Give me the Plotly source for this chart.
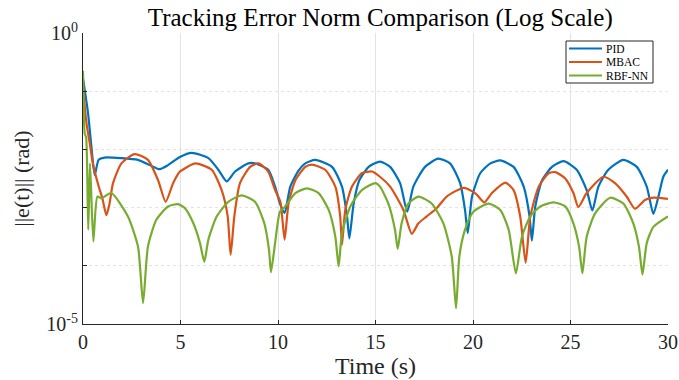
import numpy as np
import plotly.graph_objects as go

# time samples (s) and log10 of ||e(t)||
pid_t = [0.0, 0.26, 0.43, 0.6, 0.8, 1.11, 1.97, 2.82, 3.42, 3.93, 4.36, 4.97, 5.57, 6.43, 6.94, 7.37, 7.8, 8.48, 8.82,
         9.5, 9.85, 10.1, 10.34, 10.63, 11.06, 11.4, 11.91, 12.77, 13.28, 13.54, 13.66, 13.88, 14.17, 14.65, 15.23,
         15.75, 16.26, 16.63, 16.94, 17.54, 18.22, 18.82, 19.34, 19.59, 19.73, 19.95, 20.37, 20.89, 21.4, 22.08,
         22.6, 22.9, 23.02, 23.19, 23.54, 24.05, 24.65, 25.32, 25.83, 26.12, 26.43, 26.94, 27.71, 28.4, 28.91,
         29.25, 29.51, 29.76, 30.0]
pid_log = [-0.78, -1.38, -1.95, -2.44, -2.18, -2.14, -2.15, -2.18, -2.27, -2.34, -2.27, -2.13, -2.06, -2.15, -2.35,
           -2.55, -2.38, -2.24, -2.24, -2.35, -2.64, -2.93, -3.09, -2.64, -2.36, -2.24, -2.18, -2.30, -2.64, -3.15,
           -3.53, -2.93, -2.53, -2.30, -2.21, -2.30, -2.58, -3.07, -2.64, -2.30, -2.16, -2.24, -2.58, -3.04, -3.44,
           -2.81, -2.41, -2.24, -2.19, -2.30, -2.64, -3.15, -3.57, -2.99, -2.53, -2.30, -2.20, -2.35, -2.70, -3.05,
           -2.64, -2.35, -2.18, -2.30, -2.64, -3.11, -2.81, -2.47, -2.35]

mbac_t = [0.0, 0.1, 0.2, 0.35, 0.51, 0.8, 1.0, 1.2, 1.35, 1.54, 1.97, 2.65, 3.33, 3.85, 4.24, 4.62, 4.97, 5.06, 5.75,
          6.6, 7.11, 7.42, 7.57, 7.76, 8.05, 8.57, 9.0, 9.5, 9.85, 10.12, 10.34, 10.54, 10.89, 11.4, 11.74, 12.42,
          12.94, 13.19, 13.28, 13.45, 13.79, 14.3, 14.82, 15.23, 15.75, 16.43, 16.86, 17.2, 17.63, 18.14, 18.65,
          19.51, 20.02, 20.2, 20.58, 20.97, 21.66, 22.08, 22.42, 22.7, 22.94, 23.37, 23.88, 24.22, 24.73, 25.15,
          25.4, 25.83, 26.69, 27.28, 27.88, 28.31, 28.82, 29.25, 30.0]
mbac_log = [-0.85, -1.3, -1.6, -1.9, -2.25, -2.63, -2.85, -3.13, -2.95, -2.58, -2.24, -2.08, -2.18, -2.53, -2.90,
            -2.58, -2.38, -2.36, -2.24, -2.35, -2.70, -3.15, -3.81, -3.15, -2.58, -2.30, -2.24, -2.38, -2.70, -2.90,
            -3.55, -2.93, -2.53, -2.30, -2.26, -2.35, -2.64, -3.15, -3.64, -3.04, -2.64, -2.41, -2.38, -2.47, -2.64,
            -3.04, -3.45, -3.27, -3.15, -3.01, -2.81, -2.66, -2.73, -2.78, -2.91, -2.75, -2.57, -2.70, -3.15, -3.95,
            -3.15, -2.64, -2.41, -2.39, -2.50, -2.75, -2.99, -2.75, -2.47, -2.58, -2.81, -3.02, -2.87, -2.83, -2.85]

rbf_t = [0.0, 0.09, 0.16, 0.27, 0.36, 0.53, 0.74, 0.94, 1.45, 2.3, 2.82, 3.08, 3.33, 3.76, 4.36, 4.87, 5.23, 5.66,
         6.0, 6.22, 6.43, 6.86, 7.45, 8.14, 8.82, 9.3, 9.54, 9.64, 9.85, 10.1, 10.37, 10.89, 11.48, 12.08, 12.6,
         12.94, 13.11, 13.28, 13.71, 14.3, 14.99, 15.23, 15.66, 16.0, 16.14, 16.34, 16.69, 17.2, 17.88, 18.48,
         18.91, 19.13, 19.3, 19.59, 20.02, 20.8, 21.4, 21.83, 22.2, 22.51, 22.94, 23.45, 24.13, 24.73, 25.15,
         25.44, 25.61, 25.83, 26.26, 27.03, 27.71, 28.22, 28.51, 28.69, 28.91, 29.25, 30.0]
rbf_log = [-0.65, -1.73, -1.79, -3.38, -2.24, -3.58, -2.81, -2.84, -2.75, -3.15, -3.67, -4.64, -3.67, -3.21, -2.98,
           -2.94, -3.01, -3.27, -3.61, -3.93, -3.55, -3.15, -2.90, -2.79, -2.90, -3.27, -3.73, -4.11, -3.61, -3.07,
           -2.98, -2.75, -2.67, -2.75, -3.04, -3.50, -4.01, -3.44, -2.98, -2.70, -2.58, -2.64, -2.93, -3.38, -3.71,
           -3.27, -2.93, -2.81, -2.93, -3.27, -3.84, -4.73, -3.84, -3.38, -3.07, -2.93, -3.04, -3.38, -4.13, -3.50,
           -3.15, -2.98, -2.91, -2.98, -3.27, -3.67, -4.13, -3.50, -3.10, -2.83, -2.93, -3.27, -3.67, -4.15, -3.61,
           -3.33, -3.15]

series_names = ["PID", "MBAC", "RBF-NN"]
series_colors = ["#0072BD", "#D95319", "#77AC30"]
series_t = [pid_t, mbac_t, rbf_t]
series_log = [pid_log, mbac_log, rbf_log]

W, H = 679, 380
L, R, T, B = 83, 11, 33, 56
pw, ph = W - L - R, H - T - B
serif = "Liberation Serif"

fig = go.Figure()
for name, t, lg, col in zip(series_names, series_t, series_log, series_colors):
    fig.add_trace(go.Scatter(x=t, y=np.power(10.0, lg), name=name, mode="lines", showlegend=False,
                             line=dict(color=col, width=2.2, shape="spline", smoothing=0.6)))

# hand-built compact legend box (MATLAB style)
def px2paper(x, y):
    return (x - L) / pw, (H - B - y) / ph

x0, y0 = px2paper(566, 41)
x1, y1 = px2paper(653, 83)
shapes = [dict(type="rect", xref="paper", yref="paper", x0=x0, y0=y1, x1=x1, y1=y0,
               line=dict(color="#262626", width=1), fillcolor="white", layer="above")]
annotations = []
for i, (name, col) in enumerate(zip(series_names, series_colors)):
    yy = 48.5 + i * 13.5
    a0, b0 = px2paper(569, yy)
    a1, _ = px2paper(602, yy)
    shapes.append(dict(type="line", xref="paper", yref="paper", x0=a0, x1=a1, y0=b0, y1=b0,
                       line=dict(color=col, width=2.2), layer="above"))
    tx, ty = px2paper(604, yy)
    annotations.append(dict(xref="paper", yref="paper", x=tx, y=ty, xanchor="left", yanchor="middle",
                            text=name, showarrow=False, font=dict(family=serif, size=11.5, color="#000")))

fig.update_layout(
    width=W, height=H,
    margin=dict(l=L, r=R, t=T, b=B, autoexpand=False),
    paper_bgcolor="white", plot_bgcolor="white",
    font=dict(family=serif, color="#262626"),
    title=dict(text="Tracking Error Norm Comparison (Log Scale)", x=0.56, xanchor="center",
               y=0.955, yanchor="middle", font=dict(family=serif, size=25, color="#000000"), automargin=False),
    shapes=shapes, annotations=annotations,
    showlegend=False,
)
fig.update_xaxes(range=[0, 30], tickvals=[0, 5, 10, 15, 20, 25, 30], showline=True, linecolor="#262626",
                 linewidth=1, mirror=False, ticks="inside", ticklen=4, tickcolor="#262626",
                 showgrid=True, gridcolor="#e3e3e3", zeroline=False, automargin=False,
                 tickfont=dict(family=serif, size=20, color="#262626"),
                 title=dict(text="Time (s)", font=dict(family=serif, size=24, color="#262626"), standoff=1))
fig.update_yaxes(type="log", range=[-5, 0], tickvals=[1, 1e-1, 1e-2, 1e-3, 1e-4, 1e-5],
                 ticktext=["10<sup>0</sup>", "", "", "", "", "10<sup>-5</sup>"],
                 showline=True, linecolor="#262626", linewidth=1, ticks="inside", ticklen=4,
                 tickcolor="#262626", showgrid=True, gridcolor="#e3e3e3", griddash="dot", zeroline=False,
                 automargin=False,
                 tickfont=dict(family=serif, size=20, color="#262626"),
                 title=dict(text="||e(t)|| (rad)", font=dict(family=serif, size=22, color="#262626"), standoff=10))

fig.write_html("out.html", config={"displayModeBar": False},
               post_script="document.body.style.margin='0';document.body.style.overflow='hidden';")
